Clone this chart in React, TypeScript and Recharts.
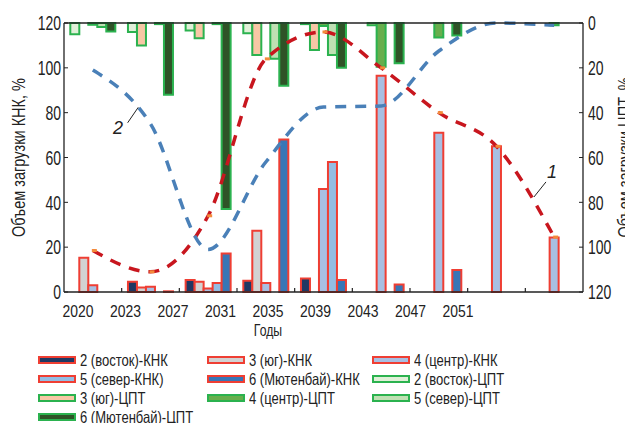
import React from "react";
import {
  ComposedChart,
  Bar,
  Line,
  XAxis,
  YAxis,
  Legend,
  ReferenceLine,
  ReferenceDot,
} from "recharts";

const FONT = "'Liberation Sans', Arial, sans-serif";

const YEARS = ["2020", "2023", "2027", "2031", "2035", "2039", "2043", "2047", "2051"];

// КНК, левая ось, %
const KNK_EAST = [0, 4.6, 5.3, 5, 6, 0, 0, 0, 0];
const KNK_SOUTH = [15.3, 2, 4.6, 27.3, 0, 0, 0, 0, 0];
const KNK_CENTER = [3, 2.3, 1.6, 4, 46, 96.5, 71, 65, 24.3];
const KNK_NORTH = [0, 0, 4, 0, 58, 0, 0, 0, 0];
const KNK_MUT = [0, 0.3, 17.2, 68, 5.3, 3.4, 9.8, 0, 0];

// ЦПТ, правая ось (перевёрнута), %
const CPT_EAST = [5, 4, 3.4, 4.6, 0.5, 0, 0, 0, 0];
const CPT_SOUTH = [0, 10, 6.8, 14.3, 12, 1, 0, 0, 0];
const CPT_CENTER = [0.8, 0, 0, 0, 1.3, 19.5, 6.5, 0, 1];
const CPT_NORTH = [1.8, 0.5, 0.5, 16, 14.3, 0, 0, 0, 0];
const CPT_MUT = [3.8, 32, 83, 28, 20, 18, 5.6, 0, 0];

// кривые 1 и 2
const CURVE_1 = [18.5, 9, 34, 104, 116, 100, 80, 65, 24.5];
const CURVE_2 = [21, 45, 101, 62, 37.5, 37, 12.5, 0, 1];

const Y_TICKS = [0, 20, 40, 60, 80, 100, 120];

const KNK_STROKE = "#ef3e33";
const CPT_STROKE = "#2bb24f";

const SERIES = [
  { key: "knkEast", name: "2 (восток)-КНК", fill: "#1f3863", stroke: KNK_STROKE, values: KNK_EAST, side: "knk" },
  { key: "knkSouth", name: "3 (юг)-КНК", fill: "#d2d2d2", stroke: KNK_STROKE, values: KNK_SOUTH, side: "knk" },
  { key: "knkCenter", name: "4 (центр)-КНК", fill: "#a8bfe2", stroke: KNK_STROKE, values: KNK_CENTER, side: "knk" },
  { key: "knkNorth", name: "5 (север-КНК)", fill: "#93bde3", stroke: KNK_STROKE, values: KNK_NORTH, side: "knk" },
  { key: "knkMut", name: "6 (Мютенбай)-КНК", fill: "#3876b6", stroke: KNK_STROKE, values: KNK_MUT, side: "knk" },
  { key: "cptEast", name: "2 (восток)-ЦПТ", fill: "#e0f0d8", stroke: CPT_STROKE, values: CPT_EAST, side: "cpt" },
  { key: "cptSouth", name: "3 (юг)-ЦПТ", fill: "#f7c7a5", stroke: CPT_STROKE, values: CPT_SOUTH, side: "cpt" },
  { key: "cptCenter", name: "4 (центр)-ЦПТ", fill: "#68ae4d", stroke: CPT_STROKE, values: CPT_CENTER, side: "cpt" },
  { key: "cptNorth", name: "5 (север)-ЦПТ", fill: "#bfe0b3", stroke: CPT_STROKE, values: CPT_NORTH, side: "cpt" },
  { key: "cptMut", name: "6 (Мютенбай)-ЦПТ", fill: "#2f5327", stroke: CPT_STROKE, values: CPT_MUT, side: "cpt" },
];

const data = YEARS.map((year, i) => {
  const row: Record<string, number | string> = { year, idx: i + 0.5, c1: CURVE_1[i], c2: CURVE_2[i] };
  SERIES.forEach((s) => {
    row[s.key] = s.values[i];
  });
  return row;
});

// границы между группами (засечки внизу)
const BOUNDS = YEARS.slice(1).map((_, i) => i + 1);
const LEGEND_COLS = [30, 199, 364];
const LBL_PAD = { left: 14, right: 125 };
const PLOT_BOTTOM = 284;

const LegendBox = () => (
  <div style={{ position: "relative", height: 73, fontFamily: FONT, fontSize: 16.5, color: "#222" }}>
    {SERIES.map((s, i) => (
      <div
        key={s.key}
        style={{
          position: "absolute",
          left: LEGEND_COLS[i % 3],
          top: 0.5 + Math.floor(i / 3) * 19,
          height: 19,
          display: "flex",
          alignItems: "center",
          whiteSpace: "nowrap",
        }}
      >
        <span style={{ display: "inline-block", width: 34, height: 4, background: s.fill, border: `2px solid ${s.stroke}` }} />
        <span style={{ marginLeft: 4, display: "inline-block", transform: "scaleX(0.79)", transformOrigin: "left center" }}>{s.name}</span>
      </div>
    ))}
  </div>
);

const OrangeDot = (props: any) => {
  const { cx, cy } = props;
  if (cx == null || cy == null) return null;
  return <rect x={cx - 1} y={cy - 1.5} width={5} height={3} fill="#f48a3a" />;
};

// узкий шрифт: обычный Liberation Sans, сжатый по горизонтали
const YTick = (props: any) => {
  const { x, y, payload, textAnchor } = props;
  return (
    <text
      transform={`translate(${x},${y}) scale(0.7,1)`}
      textAnchor={textAnchor}
      dy="0.36em"
      fontFamily={FONT}
      fontSize={20}
      fill="#222"
    >
      {payload.value}
    </text>
  );
};

const XTick = (props: any) => {
  const { x, y, payload } = props;
  return (
    <text transform={`translate(${x},${y}) scale(0.82,1)`} textAnchor="middle" dy="0.71em" fontFamily={FONT} fontSize={17} fill="#222">
      {payload.value}
    </text>
  );
};

const VTitle = (props: any) => {
  const { viewBox, text, shift } = props;
  const x = viewBox.x + shift;
  const y = viewBox.y + viewBox.height / 2;
  return (
    <text
      transform={`translate(${x},${y}) rotate(-90) scale(0.83,1)`}
      textAnchor="middle"
      dominantBaseline="central"
      fontFamily={FONT}
      fontSize={17.5}
      fill="#222"
    >
      {text}
    </text>
  );
};

const XTitle = (props: any) => {
  const { viewBox, text } = props;
  const x = viewBox.x + LBL_PAD.left + (viewBox.width - LBL_PAD.left - LBL_PAD.right) / 2;
  const y = PLOT_BOTTOM + 44;
  return (
    <text transform={`translate(${x},${y}) scale(0.72,1)`} textAnchor="middle" fontFamily={FONT} fontSize={17} fill="#222">
      {text}
    </text>
  );
};

const Note = (props: any) => {
  const { viewBox, text } = props;
  const x = viewBox.x + viewBox.width / 2;
  const y = viewBox.y + viewBox.height / 2;
  return (
    <text x={x} y={y} textAnchor="middle" dominantBaseline="central" fontFamily={FONT} fontSize={18} fontStyle="italic" fill="#222">
      {text}
    </text>
  );
};

export default function App() {
  return (
    <div style={{ width: 625, height: 415, overflow: "hidden" }}>
      <ComposedChart
        width={625}
        height={415}
        data={data}
        margin={{ top: 14, right: 0, bottom: 0, left: 0 }}
        barCategoryGap={6.3}
        barGap={0}
      >
        <XAxis xAxisId="knk" dataKey="year" hide height={0} />
        <XAxis xAxisId="cpt" dataKey="year" hide height={0} />
        <XAxis
          xAxisId="grid"
          dataKey="idx"
          type="number"
          domain={[0, YEARS.length]}
          allowDataOverflow
          tick={false}
          tickLine={false}
          height={1}
          axisLine={{ stroke: "#222", strokeWidth: 1.3 }}
        />
        <XAxis
          xAxisId="lbl"
          dataKey="year"
          type="category"
          scale="point"
          padding={LBL_PAD}
          axisLine={false}
          tickLine={false}
          tickSize={0}
          tickMargin={12}
          height={57}
          tick={<XTick />}
          interval={0}
          label={<XTitle text="Годы" />}
        />
        <XAxis
          xAxisId="top"
          orientation="top"
          type="number"
          domain={[0, 1]}
          tick={false}
          tickLine={false}
          height={1}
          axisLine={{ stroke: "#222", strokeWidth: 1.3 }}
        />
        <YAxis
          yAxisId="knk"
          domain={[0, 120]}
          ticks={Y_TICKS}
          width={56}
          tickSize={-4}
          tickMargin={7}
          tick={<YTick />}
          axisLine={{ stroke: "#222", strokeWidth: 1.3 }}
          tickLine={{ stroke: "#222" }}
          label={<VTitle text="Объем загрузки КНК, %" shift={10} />}
        />
        <YAxis
          yAxisId="cpt"
          orientation="right"
          reversed
          domain={[0, 120]}
          ticks={Y_TICKS}
          width={50}
          tickSize={-4}
          tickMargin={9}
          tick={<YTick />}
          axisLine={{ stroke: "#222", strokeWidth: 1.3 }}
          tickLine={{ stroke: "#222" }}
          label={<VTitle text="Объем загрузки ЦПТ, %" shift={41.5} />}
        />
        <Legend verticalAlign="bottom" align="left" content={<LegendBox />} />
        {BOUNDS.map((b) => (
          <ReferenceLine
            key={`b${b}`}
            xAxisId="grid"
            yAxisId="knk"
            segment={[{ x: b, y: 0 }, { x: b, y: 1.8 }]}
            stroke="#222"
            strokeWidth={1.2}
          />
        ))}
        {SERIES.map((s) => (
          <Bar
            key={s.key}
            dataKey={s.key}
            name={s.name}
            xAxisId={s.side}
            yAxisId={s.side}
            fill={s.fill}
            stroke={s.stroke}
            strokeWidth={2}
            isAnimationActive={false}
          />
        ))}
        <Line
          xAxisId="knk"
          yAxisId="knk"
          dataKey="c1"
          type="monotone"
          stroke="#c8161e"
          strokeWidth={3.5}
          strokeDasharray="11 9"
          dot={<OrangeDot />}
          activeDot={false}
          legendType="none"
          isAnimationActive={false}
        />
        <Line
          xAxisId="knk"
          yAxisId="cpt"
          dataKey="c2"
          type="monotone"
          stroke="#4a80b8"
          strokeWidth={3.5}
          strokeDasharray="11 9"
          dot={false}
          activeDot={false}
          legendType="none"
          isAnimationActive={false}
        />
        <ReferenceLine xAxisId="grid" yAxisId="knk" segment={[{ x: 1.104, y: 75.5 }, { x: 1.288, y: 82.4 }]} stroke="#222" strokeWidth={1} />
        <ReferenceLine xAxisId="grid" yAxisId="knk" segment={[{ x: 8.358, y: 49.1 }, { x: 8.15, y: 42.4 }]} stroke="#222" strokeWidth={1} />
        <ReferenceDot xAxisId="grid" yAxisId="knk" x={0.936} y={73.1} r={1} fill="none" stroke="none" label={<Note text="2" />} />
        <ReferenceDot xAxisId="grid" yAxisId="knk" x={8.462} y={53.5} r={1} fill="none" stroke="none" label={<Note text="1" />} />
      </ComposedChart>
    </div>
  );
}
